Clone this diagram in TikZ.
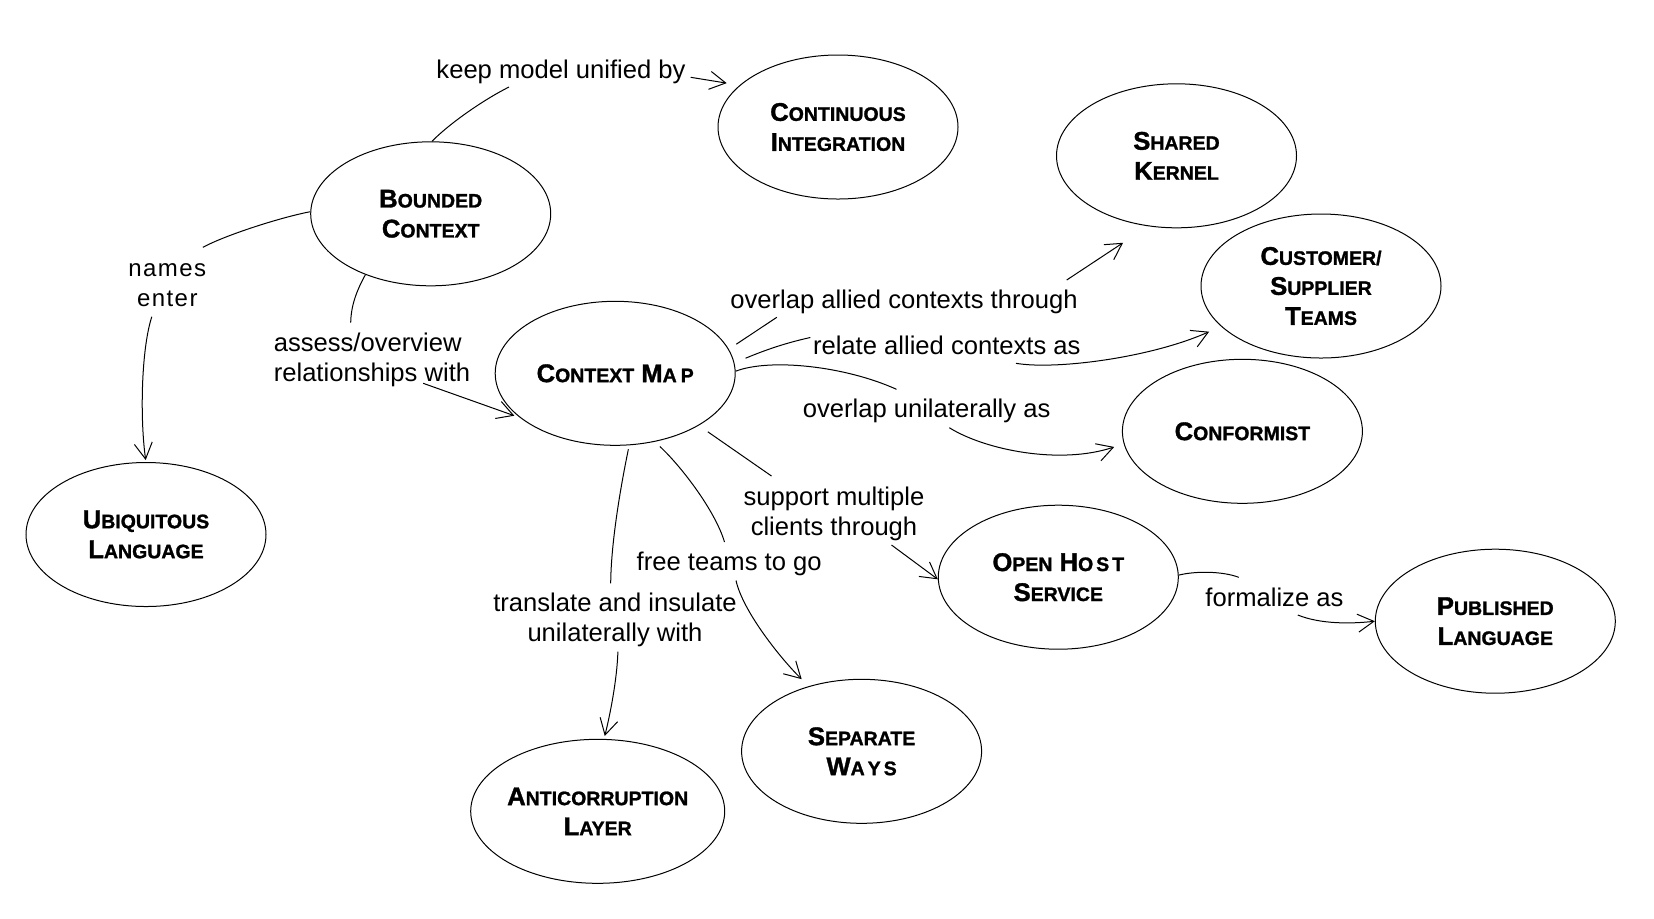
\documentclass[tikz,border=0pt]{standalone}
\usepackage{fontspec}
\setmainfont{Liberation Sans}
\usetikzlibrary{arrows.meta,shapes.geometric}
\newcommand\BigL[1]{{\fontsize{12.8}{15}\selectfont #1}}
\newcommand\SmL[1]{{\fontsize{9.75}{15}\selectfont #1}}
\newcommand\SCw[2]{\BigL{#1}\SmL{#2}}
\begin{document}
\begin{tikzpicture}[x=0.5pt,y=-0.5pt,
  concept/.style={ellipse,draw,line width=0.5pt,minimum width=120pt,minimum height=72pt,
    inner sep=0pt,align=center,font=\bfseries\fontsize{12.8}{15}\selectfont\addfontfeatures{FakeBold=1.3}},
  lbl/.style={inner sep=0pt,align=center,font=\fontsize{12.8}{15}\selectfont},
  link/.style={line width=0.5pt},
  arrowlink/.style={link,-{Straight Barb[length=8pt,width=9pt]}}
]
\fill[white] (0,0) rectangle (1654,918);
\useasboundingbox (0,0) rectangle (1654,918);

% concepts
\node[concept] (ci) at (838,127) {\SCw{C}{ONTINUOUS}\\\SCw{I}{NTEGRATION}};
\node[concept] (sk) at (1176.5,155.8) {\SCw{S}{HARED}\\\SCw{K}{ERNEL}};
\node[concept] (bc) at (430.7,213.8) {\SCw{B}{OUNDED}\\\SCw{C}{ONTEXT}};
\node[concept] (cst) at (1321,286) {\SCw{C}{USTOMER/}\\\SCw{S}{UPPLIER}\\\SCw{T}{EAMS}};
\node[concept] (cm) at (615.2,373.3) {\SCw{C}{ONTEXT} \SCw{M}{A}\hspace{2pt}\SmL{P}};
\node[concept] (conf) at (1242.4,431.3) {\SCw{C}{ONFORMIST}};
\node[concept] (ul) at (146,534.5) {\SCw{U}{BIQUITOUS}\\\SCw{L}{ANGUAGE}};
\node[concept] (ohs) at (1058.3,577.2) {\SCw{O}{PEN} \SCw{H}{O}\hspace{1.5pt}\SmL{S}\hspace{1.5pt}\SmL{T}\\\SCw{S}{ERVICE}};
\node[concept] (pl) at (1495.3,621.2) {\SCw{P}{UBLISHED}\\\SCw{L}{ANGUAGE}};
\node[concept] (sw) at (861.6,751.3) {\SCw{S}{EPARATE}\\\SCw{W}{A}\hspace{1.5pt}\SmL{Y}\hspace{1.5pt}\SmL{S}};
\node[concept,minimum width=127pt,inner xsep=-3pt] (acl) at (597.7,811.3) {\SCw{A}{NTICORRUPTION}\\\SCw{L}{AYER}};

% labels
\node[lbl,anchor=base] (l1) at (561,78.3) {keep model unified by};
\node[lbl,font={\fontsize{12}{15}\selectfont\addfontfeatures{LetterSpace=6}}] (l2) at (167.3,285.5) {names\\enter};
\node[lbl,align=left] (l3) at (372,360) {assess/overview\\relationships with};
\node[lbl,anchor=base] (l4) at (904,308.3) {overlap allied contexts through};
\node[lbl,anchor=base] (l5) at (946.8,354) {relate allied contexts as};
\node[lbl,anchor=base] (l6) at (926.6,417.3) {overlap unilaterally as};
\node[lbl] (l7) at (834,513.4) {support multiple\\clients through};
\node[lbl,anchor=base] (l8) at (729.2,570) {free teams to go};
\node[lbl] (l9) at (615,619.9) {translate and insulate\\unilaterally with};
\node[lbl,anchor=base] (l10) at (1274.4,606) {formalize as};

% break points around labels
\coordinate (c1a) at (509,87);      \coordinate (c1b) at (690.7,77.3);
\coordinate (c2a) at (202.9,247.3); \coordinate (c2b) at (151.8,316.7);
\coordinate (c3a) at (350.7,322.7); \coordinate (c3b) at (423.2,383.3);
\coordinate (c4a) at (776.8,317.3); \coordinate (c4b) at (1066.7,280);
\coordinate (c5a) at (810.3,337.5); \coordinate (c5b) at (1016,363.3);
\coordinate (c6a) at (896.5,389.3); \coordinate (c6b) at (949.3,427.7);
\coordinate (c7a) at (771.5,476);   \coordinate (c7b) at (891.5,545);
\coordinate (c8a) at (724.5,542);   \coordinate (c8b) at (736,580.5);
\coordinate (c9a) at (610.7,583.3); \coordinate (c9b) at (617.9,651.7);
\coordinate (c10a) at (1238.8,577.3); \coordinate (c10b) at (1297.8,615);

% Bounded Context -> Continuous Integration
\draw[link] (bc.89) .. controls (450,123) and (484,99.5) .. (c1a);
\draw[arrowlink,shorten >=6.5pt] (c1b) -- (ci.157);
% Bounded Context -> Ubiquitous Language
\draw[link] (bc.179) .. controls (280,217.5) and (225,235.3) .. (c2a);
\draw[arrowlink,shorten >=1pt] (c2b) .. controls (141,350) and (140,420) .. (ul.90);
% Bounded Context -> Context Map
\draw[link] (bc.223) .. controls (357,290) and (351,305) .. (c3a);
\draw[arrowlink,shorten >=3pt] (c3b) -- (cm.205);
% Context Map -> Shared Kernel
\draw[link,shorten <=4.5pt] (cm.12) -- (c4a);
\draw[arrowlink,shorten >=15pt] (c4b) -- (sk.248);
% Context Map -> Customer/Supplier Teams
\draw[link,shorten <=6pt] (cm.5) .. controls (770,348) and (790,342) .. (c5a);
\draw[arrowlink,shorten >=6.5pt] (c5b) .. controls (1055,370) and (1150,358) .. (cst.202);
% Context Map -> Conformist
\draw[link] (cm.1) .. controls (770,358) and (845,366) .. (c6a);
\draw[arrowlink,shorten >=5pt] (c6b) .. controls (985,450) and (1060,465) .. (conf.186);
% Context Map -> Open Host Service
\draw[link,shorten <=5.5pt] (cm.328) -- (c7a);
\draw[arrowlink] (c7b) -- (ohs.181);
% Context Map -> Separate Ways
\draw[link,shorten <=3.5pt] (cm.300) .. controls (680,465) and (715,510) .. (c8a);
\draw[arrowlink,shorten >=5pt] (c8b) .. controls (743,612) and (782,660) .. (sw.129);
% Context Map -> Anticorruption Layer
\draw[link,shorten <=2pt] (cm.281) .. controls (622,480) and (611,540) .. (c9a);
\draw[arrowlink,shorten >=1.5pt] (c9b) .. controls (617,680) and (610,715) .. (acl.85);
% Open Host Service -> Published Language
\draw[link] (ohs.1) .. controls (1195,571) and (1222,571) .. (c10a);
\draw[arrowlink] (c10b) .. controls (1320,624) and (1350,624) .. (pl.180);
\end{tikzpicture}
\end{document}
